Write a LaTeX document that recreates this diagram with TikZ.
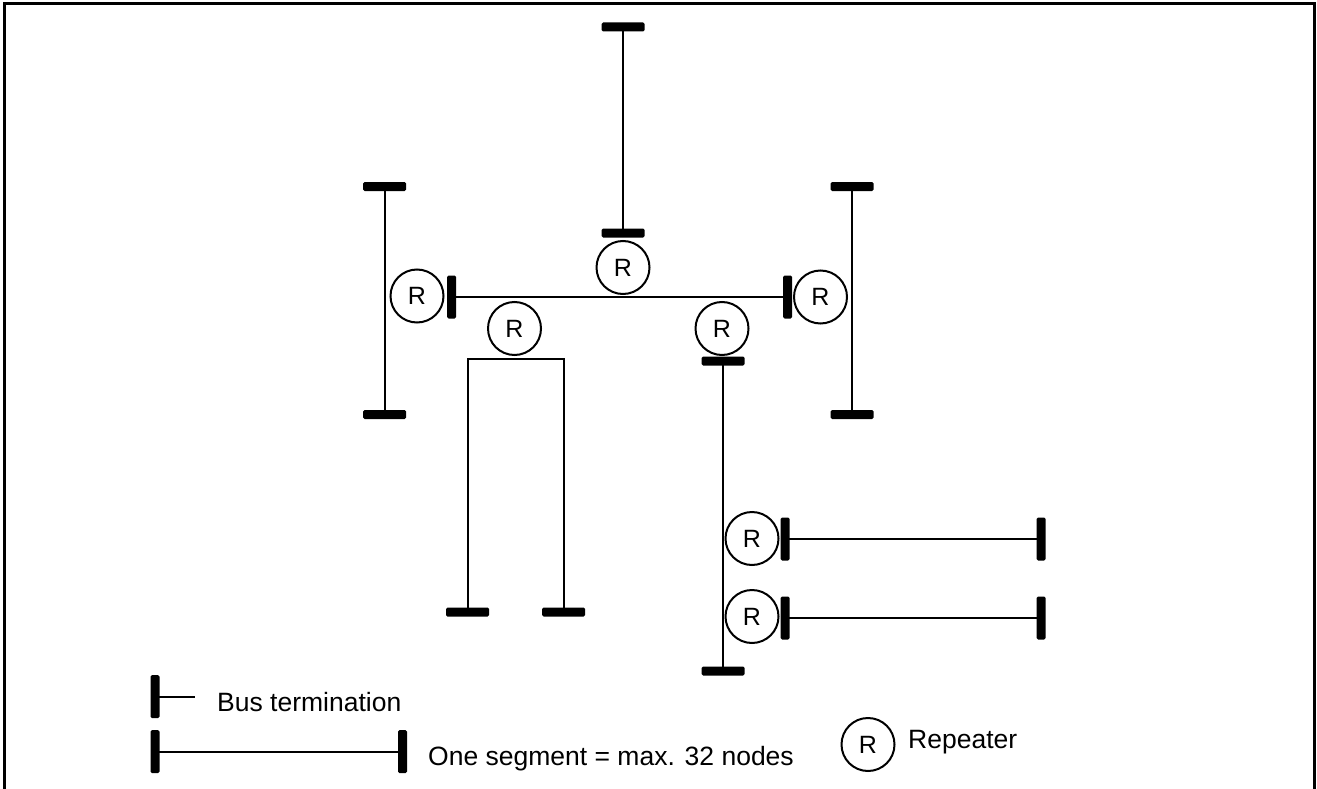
\documentclass[tikz,border=0pt]{standalone}
\usepackage{fontspec}
\setmainfont{Liberation Sans}
\begin{document}
\begin{tikzpicture}[x=1pt,y=-1pt,
  bus/.style={line width=2pt},
  hterm/.style={rectangle, fill=black, inner sep=0pt, minimum width=43pt, minimum height=9pt, rounded corners=1.5pt},
  vterm/.style={rectangle, fill=black, inner sep=0pt, minimum width=9pt, minimum height=43pt, rounded corners=1.5pt},
  rep/.style={circle, draw, line width=2pt, minimum size=53pt, inner sep=0pt, font=\fontsize{25}{25}\selectfont},
  lbl/.style={anchor=base west, inner sep=0pt, font=\fontsize{26.5}{30}\selectfont}]
\useasboundingbox (0,0) rectangle (1317,789);

% outer frame
\draw[line width=3pt] (4.5,789) -- (4.5,4) -- (1314,4) -- (1314,789);

% top segment
\node[hterm] (tT1) at (623,27) {};
\node[hterm] (tT2) at (623,233) {};
\node[rep] (rT) at (623,267.5) {R};

% main horizontal segment
\node[vterm] (mL) at (451.5,297) {};
\node[vterm] (mR) at (787.5,297) {};
\node[rep] (rL) at (417,296) {R};
\node[rep] (rR) at (820.5,297) {R};

% left and right vertical segments
\node[hterm] (lT1) at (384.5,186.5) {};
\node[hterm] (lT2) at (384.5,414.5) {};
\node[hterm] (rT1) at (852,186.5) {};
\node[hterm] (rT2) at (852,414.5) {};

% repeaters below the main segment
\node[rep] (rA) at (514.5,328.5) {R};
\node[rep] (rB) at (722,328.5) {R};

% forked segment
\coordinate (bk) at (516,359);
\node[hterm] (bA) at (467.5,612) {};
\node[hterm] (bB) at (563.5,612) {};

% lower vertical segment
\node[hterm] (dT1) at (723,361) {};
\node[hterm] (dT2) at (723,671) {};

% branch segments
\node[rep] (rC) at (752,538.5) {R};
\node[rep] (rD) at (752,616.5) {R};
\node[vterm] (c1L) at (785,539) {};
\node[vterm] (c1R) at (1041,539) {};
\node[vterm] (c2L) at (785,618) {};
\node[vterm] (c2R) at (1041,618) {};

% bus lines
\draw[bus] (tT1.center) -- (tT2.center);
\draw[bus] (mL.center) -- (mR.center);
\draw[bus] (lT1.center) -- (lT2.center);
\draw[bus] (rT1.center) -- (rT2.center);
\draw[bus] (bA.center) |- (bk) -| (bB.center);
\draw[bus] (dT1.center) -- (dT2.center);
\draw[bus] (c1L.center) -- (c1R.center);
\draw[bus] (c2L.center) -- (c2R.center);

% legend
\node[vterm] (k1) at (155,696.5) {};
\coordinate (k1e) at (195,696.5);
\draw[bus] (k1.center) -- (k1e);
\node[lbl] (k1t) at (217,711) {Bus termination};

\node[vterm] (k2a) at (155,751.5) {};
\node[vterm] (k2b) at (402.5,751.5) {};
\draw[bus] (k2a.center) -- (k2b.center);
\node[lbl] (k2t) at (428,765) {One segment = max. 32 nodes};

\node[rep] (k3) at (868,744.5) {R};
\node[lbl] (k3t) at (908,748) {Repeater};
\end{tikzpicture}
\end{document}
